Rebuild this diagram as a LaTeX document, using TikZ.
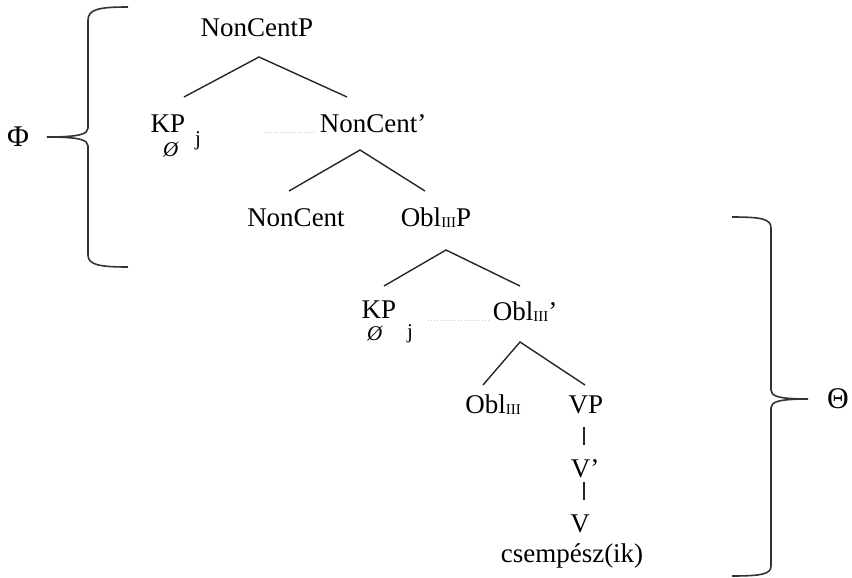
\documentclass[tikz,border=0pt]{standalone}
\usepackage{fontspec}
\setmainfont{Liberation Serif}
\newcommand\osub{{\fontsize{15}{15}\selectfont\raisebox{-1.5pt}{III}}}
\begin{document}
\begin{tikzpicture}[x=1pt,y=-1pt,
  lbl/.style={anchor=base,inner sep=0pt,font=\fontsize{27}{30}\selectfont},
  smalllbl/.style={anchor=base,inner sep=0pt,font=\fontsize{21}{22}\selectfont},
  greek/.style={anchor=center,inner sep=0pt,font=\fontsize{30}{32}\selectfont},
  edge/.style={line width=1.4pt,black!85},
  faint/.style={dotted,gray!40,line width=1pt},
  brace/.style={line width=1.6pt,black!80}]
\useasboundingbox (0,0) rectangle (852,578);
% nodes
\node[lbl] (ncp) at (257,37) {NonCentP};
\node[lbl] (kp1) at (168,132) {KP};
\node[smalllbl] (z1) at (171,157) {\textit{Ø}};
\node[smalllbl] (j1) at (198,145) {j};
\node[lbl] (ncb) at (373,132) {NonCent’};
\node[lbl] (nc) at (296,226) {NonCent};
\node[lbl] (op) at (436,226) {Obl\osub P};
\node[lbl] (kp2) at (379,318) {KP};
\node[smalllbl] (z2) at (375,340) {\textit{Ø}};
\node[smalllbl] (j2) at (410,338) {j};
\node[lbl] (ob) at (525,320) {Obl\osub’};
\node[lbl] (o) at (493,413) {Obl\osub};
\node[lbl] (vp) at (586,413) {VP};
\node[lbl] (vb) at (585,477) {V’};
\node[lbl] (v) at (580,532) {V};
\node[lbl] (cs) at (572,562) {csempész(ik)};
\node[greek] (phi) at (18,137) {Φ};
\node[greek] (theta) at (838,399) {Θ};
% branch points
\coordinate (a1) at (259,57);  \coordinate (a1l) at (184,97);  \coordinate (a1r) at (347,97);
\coordinate (a2) at (360,150); \coordinate (a2l) at (289,191); \coordinate (a2r) at (425,191);
\coordinate (a3) at (446,250); \coordinate (a3l) at (384,286); \coordinate (a3r) at (520,286);
\coordinate (a4) at (520,342); \coordinate (a4l) at (483,385); \coordinate (a4r) at (585,385);
\coordinate (u1) at (584,427); \coordinate (d1) at (584,445);
\coordinate (u2) at (584,482); \coordinate (d2) at (584,500);
\coordinate (f1a) at (265,132); \coordinate (f1b) at (316,132);
\coordinate (f2a) at (428,320); \coordinate (f2b) at (490,320);
% edges
\draw[edge] (a1l) -- (a1) -- (a1r);
\draw[edge] (a2l) -- (a2) -- (a2r);
\draw[edge] (a3l) -- (a3) -- (a3r);
\draw[edge] (a4l) -- (a4) -- (a4r);
\draw[edge] (u1) -- (d1);
\draw[edge] (u2) -- (d2);
\draw[faint] (f1a) -- (f1b);
\draw[faint] (f2a) -- (f2b);
% braces
\draw[brace] (128,7) .. controls (100,7) and (88,9) .. (88,20) -- (88,128)
  .. controls (88,134) and (80,137) .. (47,137)
  .. controls (80,137) and (88,140) .. (88,146) -- (88,255)
  .. controls (88,265) and (100,267) .. (128,267);
\draw[brace] (732,217) .. controls (762,217) and (771,219) .. (771,228) -- (771,390)
  .. controls (771,396) and (778,399) .. (808,399)
  .. controls (778,399) and (771,402) .. (771,408) -- (771,566)
  .. controls (771,574) and (762,576) .. (732,576);
\end{tikzpicture}
\end{document}
